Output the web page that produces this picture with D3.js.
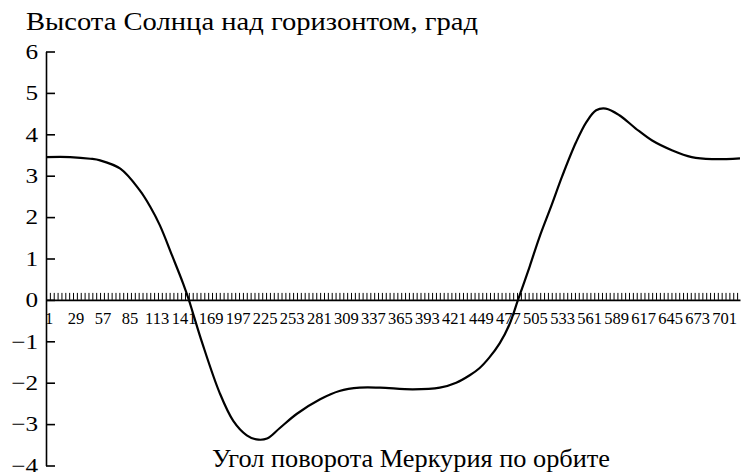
<!DOCTYPE html>
<html>
<head>
<meta charset="utf-8">
<script src="https://cdn.jsdelivr.net/npm/d3@7/dist/d3.min.js"></script>
<style>
  html, body { margin: 0; padding: 0; background: #fff; }
  svg { display: block; }
</style>
</head>
<body>
<svg id="chart" width="742" height="472"></svg>
<script>
// Sun elevation above the horizon (deg) vs. Mercury's orbital rotation angle
const angles = [1, 26, 47, 57, 78, 98, 109, 119, 132, 143, 149, 153, 163, 181, 195, 209, 219, 230, 243, 261, 285, 305, 326, 347, 381, 409, 426, 440, 450, 460, 471, 481, 490, 502, 512, 525, 536, 550, 561, 571, 581, 595, 612, 629, 650, 670, 691, 720];
const heights = [3.45, 3.45, 3.41, 3.37, 3.17, 2.65, 2.25, 1.8, 1.05, 0.4, 0, -0.3, -1.05, -2.25, -2.92, -3.27, -3.37, -3.35, -3.1, -2.75, -2.4, -2.2, -2.12, -2.12, -2.16, -2.12, -2.0, -1.82, -1.65, -1.4, -1.05, -0.6, 0, 0.8, 1.5, 2.3, 3.0, 3.8, 4.3, 4.58, 4.62, 4.46, 4.14, 3.85, 3.61, 3.45, 3.4, 3.42];

const yTicks = [-4, -3, -2, -1, 0, 1, 2, 3, 4, 5, 6];
const xLabels = [1, 29, 57, 85, 113, 141, 169, 197, 225, 253, 281, 309, 337, 365, 393, 421, 449, 477, 505, 533, 561, 589, 617, 645, 673, 701];
const xTickStep = 4;
const xTicks = d3.range(1, 721, xTickStep);

const yTitle = "Высота Солнца над горизонтом, град";
const xTitle = "Угол поворота Меркурия по орбите";

const FONT = "Liberation Serif";
const svg = d3.select("#chart");

const x = d3.scaleLinear().domain([1, 720]).range([46, 740]);
const y = d3.scaleLinear().domain([-4, 6]).range([465.5, 51.5]);

// vertical axis with inward ticks
const yAxis = svg.append("g")
  .attr("transform", `translate(${x(1)},0)`)
  .call(d3.axisLeft(y).tickValues(yTicks).tickSizeInner(-9).tickSizeOuter(0).tickPadding(8));
yAxis.attr("font-family", FONT);
yAxis.select(".domain").attr("stroke", "#000").attr("stroke-width", 1.6);
yAxis.selectAll(".tick line").attr("stroke", "#000").attr("stroke-width", 1.6);
yAxis.selectAll(".tick text")
  .attr("font-family", FONT)
  .attr("font-size", 21)
  .attr("fill", "#000")
  .attr("x", 0)
  .attr("transform", "translate(-8,0) scale(1.2,1)");

// horizontal axis along zero, comb of small ticks
const xAxis = svg.append("g")
  .attr("transform", `translate(0,${y(0)})`)
  .call(d3.axisTop(x).tickValues(xTicks).tickSize(7).tickSizeOuter(0).tickFormat(""));
xAxis.select(".domain").attr("stroke", "#000").attr("stroke-width", 1.8);
xAxis.selectAll(".tick line").attr("stroke", "#000").attr("stroke-width", 1);

// category labels under the zero line
const xLab = svg.append("g")
  .attr("transform", `translate(2.5,${y(0)})`)
  .call(d3.axisBottom(x).tickValues(xLabels).tickSize(0).tickPadding(12).tickFormat(d3.format("d")));
xLab.attr("font-family", FONT);
xLab.select(".domain").remove();
xLab.selectAll(".tick text")
  .attr("font-family", FONT)
  .attr("font-size", 16.5)
  .attr("fill", "#000");

// curve
const line = d3.line()
  .x((d, i) => x(angles[i]))
  .y(d => y(d))
  .curve(d3.curveCatmullRom.alpha(0.5));
svg.append("path")
  .datum(heights)
  .attr("d", line)
  .attr("fill", "none")
  .attr("stroke", "#000")
  .attr("stroke-width", 2.2);

// titles
svg.append("text")
  .attr("x", 26).attr("y", 30)
  .attr("font-family", FONT)
  .attr("font-size", 25)
  .attr("textLength", 452)
  .attr("lengthAdjust", "spacingAndGlyphs")
  .attr("fill", "#000")
  .text(yTitle);
svg.append("text")
  .attr("x", 411).attr("y", 467)
  .attr("text-anchor", "middle")
  .attr("font-family", FONT)
  .attr("font-size", 25)
  .attr("textLength", 398)
  .attr("lengthAdjust", "spacingAndGlyphs")
  .attr("fill", "#000")
  .text(xTitle);
</script>
</body>
</html>
